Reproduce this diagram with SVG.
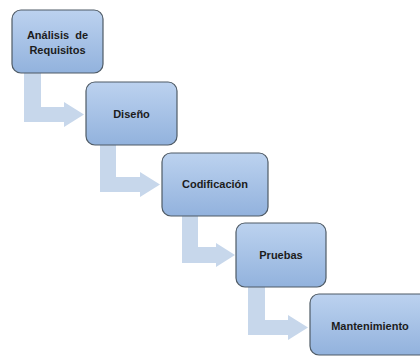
<svg xmlns="http://www.w3.org/2000/svg" width="420" height="356" viewBox="0 0 420 356">
  <defs>
    <linearGradient id="boxFill" x1="0" y1="0" x2="0" y2="1">
      <stop offset="0" stop-color="#bcd2ef"/>
      <stop offset="1" stop-color="#92b2dd"/>
    </linearGradient>
    <style>
      .box { fill: url(#boxFill); stroke: #4f5b66; stroke-width: 1.2; }
      .flow { fill: #c7d7eb; stroke: none; }
      .label { font-family: "Liberation Sans", Arial, sans-serif; font-weight: bold; font-size: 11px; fill: #1c1c1c; text-anchor: middle; dominant-baseline: central; }
    </style>
  </defs>
  <rect width="420" height="356" fill="#ffffff"/>

  <!-- bent arrows linking each phase to the next -->
  <g id="connectors">
    <path class="flow" d="M24,73 H41 V107 H64 V102 L84,114.5 L64,127 V122 H24 Z"/>
    <path class="flow" d="M100,145 H116 V177 H140 V172 L160,184.5 L140,197 V192 H100 Z"/>
    <path class="flow" d="M182,216 H198 V247 H216 V243 L235,255 L216,267 V263 H182 Z"/>
    <path class="flow" d="M248,287 H265 V320 H288 V315 L308,327.5 L288,340 V335 H248 Z"/>
  </g>

  <g id="analisis">
    <rect class="box" x="12" y="10" width="91" height="63" rx="9"/>
    <text class="label" x="57.5" y="35" xml:space="preserve">Análisis  de</text>
    <text class="label" x="57.5" y="50">Requisitos</text>
  </g>

  <g id="diseno">
    <rect class="box" x="86" y="82" width="91" height="63" rx="9"/>
    <text class="label" x="131.5" y="113.5">Diseño</text>
  </g>

  <g id="codificacion">
    <rect class="box" x="162" y="153" width="106" height="63" rx="9"/>
    <text class="label" x="215" y="184">Codificación</text>
  </g>

  <g id="pruebas">
    <rect class="box" x="236" y="223" width="90" height="64" rx="9"/>
    <text class="label" x="281" y="255">Pruebas</text>
  </g>

  <g id="mantenimiento">
    <rect class="box" x="310" y="294" width="120" height="61" rx="9"/>
    <text class="label" x="370" y="326">Mantenimiento</text>
  </g>
</svg>
